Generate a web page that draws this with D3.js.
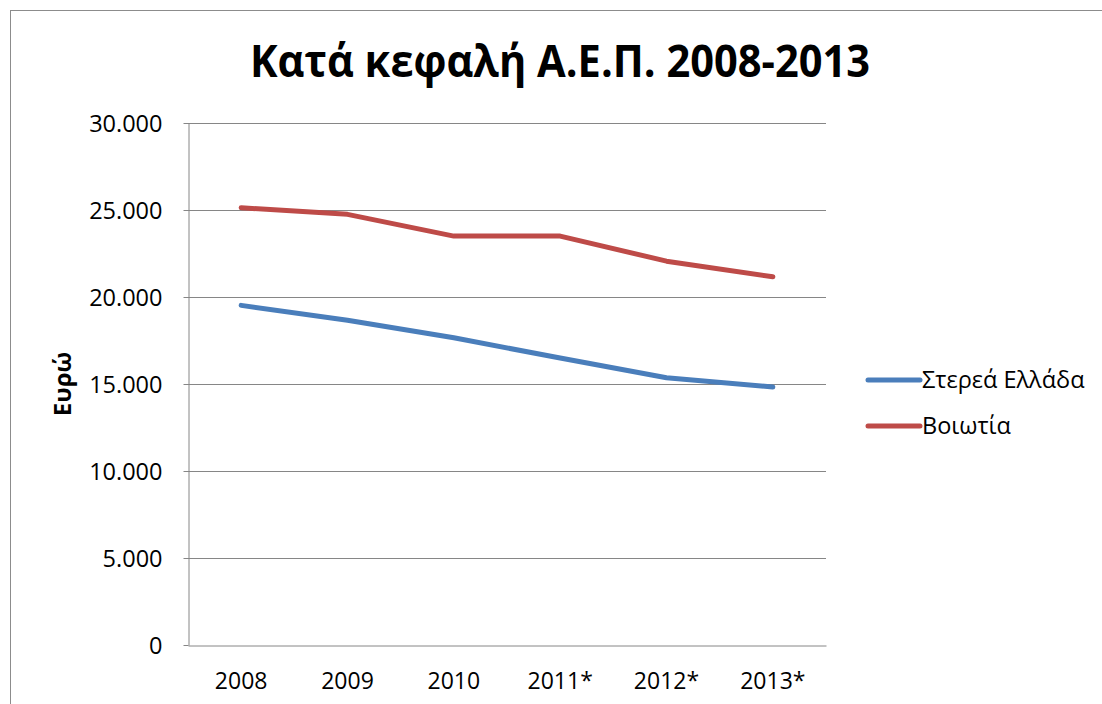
<!DOCTYPE html>
<html><head><meta charset="utf-8">
<script src="https://cdn.jsdelivr.net/npm/d3@7"></script>
<style>body{margin:0;background:#fff}svg{display:block}</style>
</head><body>
<svg id="c" width="1102" height="704"></svg>
<script>
const categories = ["2008","2009","2010","2011*","2012*","2013*"];
const sterea = [19520, 18660, 17660, 16490, 15360, 14830];
const voiotia = [25130, 24750, 23500, 23500, 22060, 21160];
const seriesNames = ["Στερεά Ελλάδα","Βοιωτία"];
const yTicks = [0,5000,10000,15000,20000,25000,30000];
const title = "Κατά κεφαλή Α.Ε.Π. 2008-2013";
const yTitle = "Ευρώ";

const svg = d3.select("#c");
const font = "'Open Sans', 'Noto Sans', sans-serif";
const colors = ["#4A7EBB","#BE4B48"];
const L=188, R=826, T=123, B=645;

svg.append("rect").attr("x",10.5).attr("y",10.5).attr("width",1100).attr("height",700)
  .attr("fill","#fff").attr("stroke","#8c8c8c").attr("stroke-width",1);

svg.append("text").attr("x",560).attr("y",77).attr("text-anchor","middle")
  .attr("font-family",font).attr("font-weight","bold").attr("font-size",44)
  .attr("textLength",620).attr("lengthAdjust","spacingAndGlyphs")
  .text(title);

const x = d3.scaleBand().domain(categories).range([L,R]);
const y = d3.scaleLinear().domain([0,30000]).range([B,T]);
const fmt = d => d3.format(",")(d).replace(/,/g,".");

svg.append("g").selectAll("line").data(yTicks.filter(d=>d>0)).join("line")
  .attr("x1",L).attr("x2",R).attr("y1",d=>Math.round(y(d))+0.5).attr("y2",d=>Math.round(y(d))+0.5)
  .attr("stroke","#868686").attr("stroke-width",1);

const yAxis = svg.append("g").attr("transform",`translate(${L+0.5},0)`)
  .call(d3.axisLeft(y).tickValues(yTicks).tickFormat(fmt).tickSize(5).tickSizeOuter(0));
yAxis.select(".domain").attr("stroke","#868686");
yAxis.selectAll(".tick line").attr("stroke","#868686");
yAxis.selectAll("text").attr("font-family",font).attr("font-size",23.5).attr("fill","#000")
  .attr("x",-26).attr("dy","0.35em");

const xAxis = svg.append("g").attr("transform",`translate(0,${Math.round(B)+0.5})`)
  .call(d3.axisBottom(x).tickSize(0).tickSizeOuter(0));
xAxis.select(".domain").attr("stroke","#868686");
xAxis.selectAll("text").attr("font-family",font).attr("font-size",23).attr("fill","#000")
  .attr("y",0).attr("dy",0).attr("transform","translate(0,43)");

svg.append("text").attr("transform","translate(71,384) rotate(-90)").attr("text-anchor","middle")
  .attr("font-family",font).attr("font-weight","bold").attr("font-size",24).text(yTitle);

const line = d3.line().x((d,i)=>x(categories[i])+x.bandwidth()/2).y(d=>y(d));
[sterea, voiotia].forEach((s,i)=>{
  svg.append("path").datum(s).attr("d",line).attr("fill","none")
    .attr("stroke",colors[i]).attr("stroke-width",5).attr("stroke-linecap","round").attr("stroke-linejoin","round");
});

const lg = svg.append("g");
seriesNames.forEach((n,i)=>{
  const yy = 380 + i*46;
  lg.append("line").attr("x1",868).attr("x2",920).attr("y1",yy).attr("y2",yy)
    .attr("stroke",colors[i]).attr("stroke-width",5).attr("stroke-linecap","round");
  lg.append("text").attr("x",922).attr("y",yy).attr("dy","0.35em")
    .attr("font-family",font).attr("font-size",23.5).text(n);
});
</script>
</body></html>
